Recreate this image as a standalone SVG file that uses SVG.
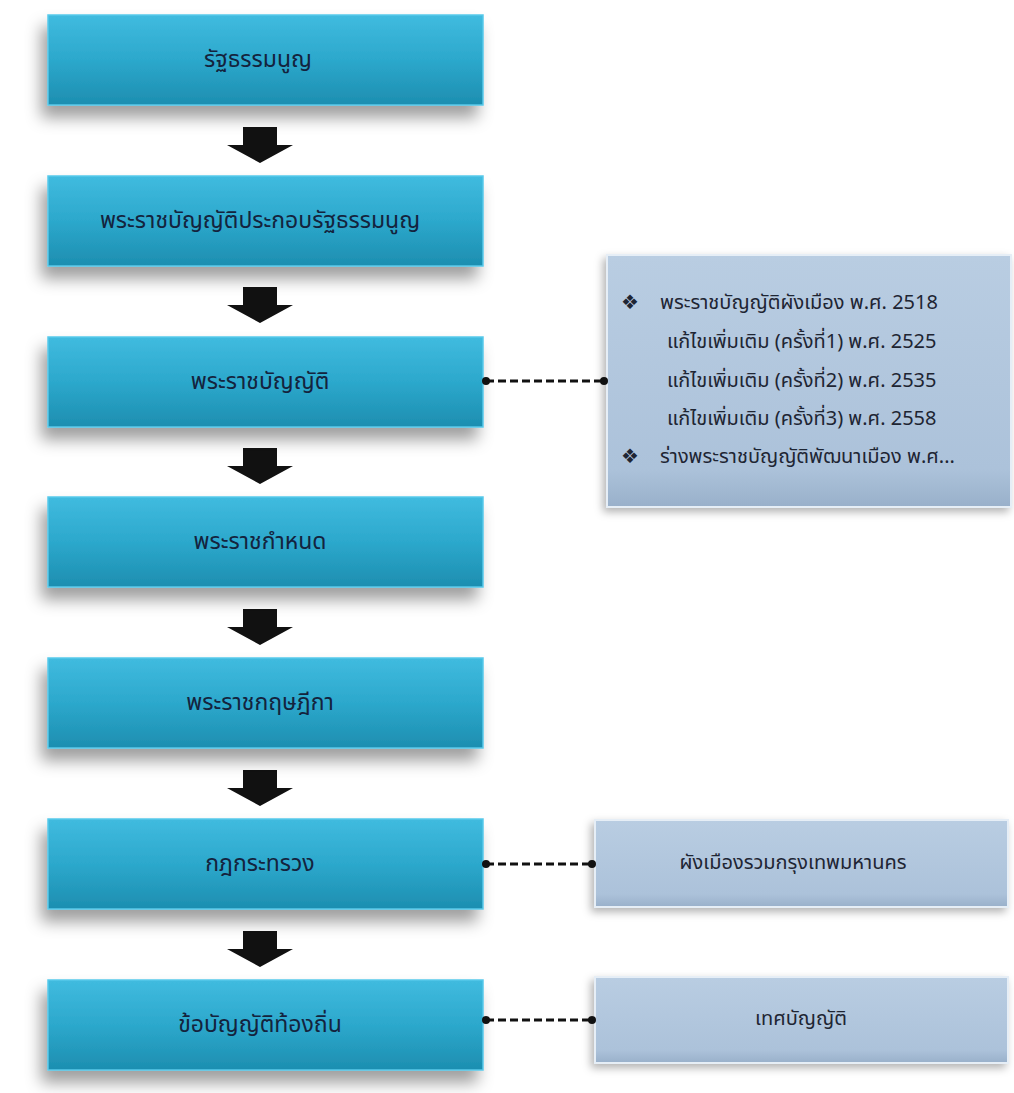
<svg xmlns="http://www.w3.org/2000/svg" width="1014" height="1093" viewBox="0 0 1014 1093">
<style>
.mtxt{font-family:"Noto Sans Thai","Tahoma","DejaVu Sans","Noto Sans",sans-serif;font-size:23px;fill:#14233d;text-anchor:middle;dominant-baseline:central}
.rtxt{font-family:"Noto Sans Thai","Tahoma","DejaVu Sans","Noto Sans",sans-serif;font-size:20px;fill:#1e2533;dominant-baseline:central}
.ctxt{text-anchor:middle}
.mbox{fill:url(#gMain);stroke:#57c9ea;stroke-width:1.5}
.rbox{fill:url(#gSide);stroke:#e6eef6;stroke-width:2}
.arrow{fill:#111}
.dash{stroke:#111;stroke-width:3;stroke-dasharray:8 4;fill:none}
.dot{fill:#111}
</style>
<defs>
<linearGradient id="gMain" x1="0" y1="0" x2="0" y2="1">
<stop offset="0" stop-color="#40bbdf"/>
<stop offset="0.5" stop-color="#2ca8cc"/>
<stop offset="1" stop-color="#1d8eb0"/>
</linearGradient>
<linearGradient id="gSide" x1="0" y1="0" x2="0" y2="1">
<stop offset="0" stop-color="#b9cde2"/>
<stop offset="0.85" stop-color="#acc2da"/>
<stop offset="1" stop-color="#99b0ca"/>
</linearGradient>
<filter id="shMain" x="-10%" y="-25%" width="120%" height="170%">
<feDropShadow dx="-6" dy="12" stdDeviation="8" flood-color="#000" flood-opacity="0.38"/>
</filter>
<filter id="shSide" x="-10%" y="-20%" width="120%" height="150%">
<feDropShadow dx="-3" dy="4" stdDeviation="4" flood-color="#000" flood-opacity="0.3"/>
</filter>
<path id="arr" d="M243,0 H277 V18 H293 L260,36 L227,18 H243 Z"/>
</defs>
<rect width="1014" height="1093" fill="#fff"/>

<g id="arrows">
<use href="#arr" class="arrow" y="127"/>
<use href="#arr" class="arrow" y="287"/>
<use href="#arr" class="arrow" y="448"/>
<use href="#arr" class="arrow" y="609"/>
<use href="#arr" class="arrow" y="770"/>
<use href="#arr" class="arrow" y="931"/>
</g>

<g id="n1"><rect class="mbox" x="48" y="15" width="435" height="90" filter="url(#shMain)"/><text class="mtxt" x="258" y="60">รัฐธรรมนูญ</text></g>
<g id="n2"><rect class="mbox" x="48" y="176" width="435" height="90" filter="url(#shMain)"/><text class="mtxt" x="260" y="221">พระราชบัญญัติประกอบรัฐธรรมนูญ</text></g>
<g id="n3"><rect class="mbox" x="48" y="337" width="435" height="90" filter="url(#shMain)"/><text class="mtxt" x="260" y="382">พระราชบัญญัติ</text></g>
<g id="n4"><rect class="mbox" x="48" y="497" width="435" height="90" filter="url(#shMain)"/><text class="mtxt" x="260" y="542">พระราชกำหนด</text></g>
<g id="n5"><rect class="mbox" x="48" y="658" width="435" height="90" filter="url(#shMain)"/><text class="mtxt" x="260" y="703">พระราชกฤษฎีกา</text></g>
<g id="n6"><rect class="mbox" x="48" y="819" width="435" height="90" filter="url(#shMain)"/><text class="mtxt" x="260" y="864">กฎกระทรวง</text></g>
<g id="n7"><rect class="mbox" x="48" y="980" width="435" height="90" filter="url(#shMain)"/><text class="mtxt" x="260" y="1025">ข้อบัญญัติท้องถิ่น</text></g>

<g id="r1"><rect class="rbox" x="607" y="255" width="404" height="252" filter="url(#shSide)"/>
<text class="rtxt" x="621" y="303">❖</text><text class="rtxt" x="660" y="303">พระราชบัญญัติผังเมือง พ.ศ. 2518</text>
<text class="rtxt" x="667" y="342">แก้ไขเพิ่มเติม (ครั้งที่1) พ.ศ. 2525</text>
<text class="rtxt" x="667" y="381">แก้ไขเพิ่มเติม (ครั้งที่2) พ.ศ. 2535</text>
<text class="rtxt" x="667" y="419">แก้ไขเพิ่มเติม (ครั้งที่3) พ.ศ. 2558</text>
<text class="rtxt" x="621" y="457">❖</text><text class="rtxt" x="660" y="457">ร่างพระราชบัญญัติพัฒนาเมือง พ.ศ...</text>
</g>
<g id="r2"><rect class="rbox" x="595" y="820" width="413" height="87" filter="url(#shSide)"/><text class="rtxt ctxt" x="793" y="863">ผังเมืองรวมกรุงเทพมหานคร</text></g>
<g id="r3"><rect class="rbox" x="595" y="977" width="413" height="86" filter="url(#shSide)"/><text class="rtxt ctxt" x="801" y="1019">เทศบัญญัติ</text></g>

<g id="connectors">
<line class="dash" x1="486" y1="381" x2="604" y2="381"/><circle class="dot" cx="486" cy="381" r="4"/><circle class="dot" cx="604" cy="381" r="4"/>
<line class="dash" x1="486" y1="864" x2="592" y2="864"/><circle class="dot" cx="486" cy="864" r="4"/><circle class="dot" cx="592" cy="864" r="4"/>
<line class="dash" x1="486" y1="1020" x2="592" y2="1020"/><circle class="dot" cx="486" cy="1020" r="4"/><circle class="dot" cx="592" cy="1020" r="4"/>
</g>
</svg>
